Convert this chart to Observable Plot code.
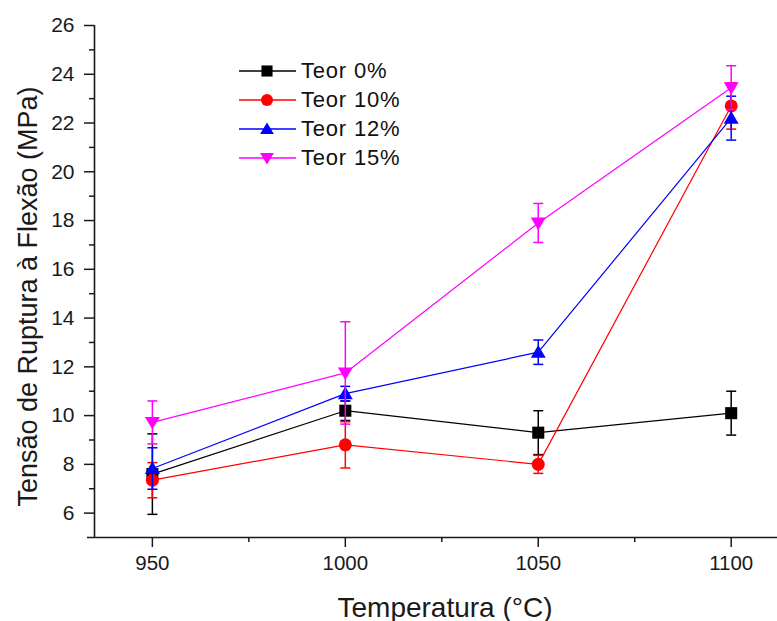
<!DOCTYPE html>
<html>
<head>
<meta charset="utf-8">
<script src="https://cdn.jsdelivr.net/npm/d3@7"></script>
<script src="https://cdn.jsdelivr.net/npm/@observablehq/plot@0.6"></script>
<style>
  html, body { margin: 0; padding: 0; background: #fff; }
  #wrap { position: relative; width: 777px; height: 621px; font-family: "Liberation Sans", Arial, sans-serif; }
  #legend { position: absolute; left: 239px; top: 56px; }
  .lrow { display: flex; align-items: center; height: 29px; }
  .lrow span { font-size: 22px; letter-spacing: 0.8px; color: #111; margin-left: 5px; }
</style>
</head>
<body>
<div id="wrap"><div id="legend"></div></div>
<script>
// ---- data ----
const temps = [950, 1000, 1050, 1100];
const seriesNames = ["Teor 0%", "Teor 10%", "Teor 12%", "Teor 15%"];
const teor0  = [7.6, 10.2, 9.3, 10.1];
const err0   = [1.65, 0.4, 0.9, 0.9];
const teor10 = [7.35, 8.8, 8.0, 22.7];
const err10  = [0.72, 0.95, 0.37, 0.95];
const teor12 = [7.83, 10.9, 12.6, 22.2];
const err12  = [0.85, 0.3, 0.5, 0.9];
const teor15 = [9.72, 11.75, 17.9, 23.45];
const err15  = [0.88, 2.1, 0.8, 0.9];
const yTicks = [6, 8, 10, 12, 14, 16, 18, 20, 22, 24, 26];
const yMinor = [7, 9, 11, 13, 15, 17, 19, 21, 23, 25];
const xTicks = [950, 1000, 1050, 1100];
const xMinor = [975, 1025, 1075];

// ---- styles ----
const colors = ["#000000", "#ff0000", "#0000ff", "#ff00ff"];
const triUp = {draw(ctx, size) { const r = Math.sqrt(size / Math.PI);
  ctx.moveTo(0, -r * 1.1); ctx.lineTo(r * 1.15, r * 0.85); ctx.lineTo(-r * 1.15, r * 0.85); ctx.closePath(); }};
const triDown = {draw(ctx, size) { const r = Math.sqrt(size / Math.PI);
  ctx.moveTo(0, r * 1.1); ctx.lineTo(r * 1.15, -r * 0.85); ctx.lineTo(-r * 1.15, -r * 0.85); ctx.closePath(); }};
const hline = {draw(ctx, size) { const r = Math.sqrt(size / Math.PI);
  ctx.moveTo(-r, 0); ctx.lineTo(r, 0); }};
const symbols = ["square", "circle", triUp, triDown];
const radii = [6.8, 6.5, 6.5, 6.5];

const values = [teor0, teor10, teor12, teor15];
const errors = [err0, err10, err12, err15];
const series = seriesNames.map((name, i) => ({
  name, color: colors[i], symbol: symbols[i], r: radii[i],
  rows: temps.map((t, j) => ({t, v: values[i][j], e: errors[i][j]}))
}));

const xDomain = [935, 1112];
const yDomain = [5, 26];
const axisColor = "#1a1a1a";

const marks = [
  Plot.ruleX([xDomain[0]], {stroke: axisColor, strokeWidth: 1.6}),
  Plot.ruleY([yDomain[0]], {stroke: axisColor, strokeWidth: 1.6, insetLeft: -7}),
  Plot.axisY({ticks: yTicks, tickSize: 10, tickPadding: 10, fontSize: 21, label: null, color: axisColor, strokeWidth: 1.5}),
  Plot.axisY({ticks: yMinor, tickSize: 5, tickFormat: () => "", label: null, color: axisColor, strokeWidth: 1.5}),
  Plot.axisX({ticks: xTicks, tickSize: 10, tickPadding: 8, fontSize: 20.5, tickFormat: d => String(d), label: null, color: axisColor, strokeWidth: 1.5}),
  Plot.axisX({ticks: xMinor, tickSize: 5, tickFormat: () => "", label: null, color: axisColor, strokeWidth: 1.5}),
  Plot.text(["Temperatura (°C)"], {frameAnchor: "bottom", lineAnchor: "bottom", dy: 79, dx: 9, fontSize: 28, fill: axisColor}),
  Plot.text(["Tensão de Ruptura à Flexão (MPa)"], {frameAnchor: "left", textAnchor: "middle", lineAnchor: "bottom", rotate: -90, dx: -58, dy: 15, fontSize: 27, fill: axisColor})
];

for (const s of series) {
  marks.push(
    Plot.line(s.rows, {x: "t", y: "v", stroke: s.color, strokeWidth: 1.2}),
    Plot.ruleX(s.rows, {x: "t", y1: d => d.v - d.e, y2: d => d.v + d.e, stroke: s.color, strokeWidth: 1.5}),
    Plot.dot(s.rows, {x: "t", y: d => d.v + d.e, symbol: hline, r: 5, stroke: s.color, fill: "none", strokeWidth: 1.5}),
    Plot.dot(s.rows, {x: "t", y: d => d.v - d.e, symbol: hline, r: 5, stroke: s.color, fill: "none", strokeWidth: 1.5}),
    Plot.dot(s.rows, {x: "t", y: "v", symbol: s.symbol, r: s.r, fill: s.color, stroke: "none"})
  );
}

const chart = Plot.plot({
  width: 777, height: 621,
  marginLeft: 94, marginRight: 0, marginTop: 25, marginBottom: 84,
  x: {domain: xDomain},
  y: {domain: yDomain},
  style: {fontFamily: "'Liberation Sans', Arial, sans-serif", background: "#fff", overflow: "visible"},
  marks
});
document.getElementById("wrap").prepend(chart);

// ---- legend ----
const legend = d3.select("#legend");
for (const s of series) {
  const row = legend.append("div").attr("class", "lrow");
  const svg = row.append("svg").attr("width", 57).attr("height", 20);
  svg.append("line").attr("x1", 0).attr("x2", 57).attr("y1", 10).attr("y2", 10).attr("stroke", s.color).attr("stroke-width", 1.5);
  const sym = typeof s.symbol === "string" ? (s.symbol === "square" ? d3.symbolSquare : d3.symbolCircle) : s.symbol;
  svg.append("path").attr("transform", "translate(28,10)").attr("d", d3.symbol(sym, Math.PI * s.r * s.r * 0.85)()).attr("fill", s.color);
  row.append("span").text(s.name);
}
</script>
</body>
</html>
